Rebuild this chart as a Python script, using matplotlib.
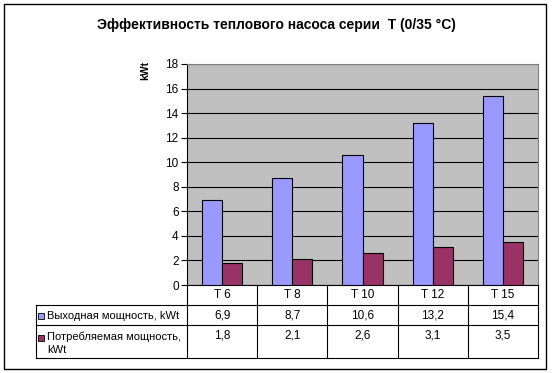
import numpy as np
import matplotlib.pyplot as plt
from matplotlib.patches import Rectangle
from matplotlib.lines import Line2D

plt.rcParams['font.family'] = ['Liberation Sans', 'DejaVu Sans']

# данные
categories = ['T 6', 'T 8', 'T 10', 'T 12', 'T 15']
output_power = [6.9, 8.7, 10.6, 13.2, 15.4]
consumed_power = [1.8, 2.1, 2.6, 3.1, 3.5]
series_names = ['Выходная мощность, kWt', 'Потребляемая мощность,\nkWt']
colors = ['#9999FF', '#993366']

W, H = 552, 373
fig = plt.figure(figsize=(W / 100, H / 100), dpi=100)

# пиксельные координаты -> доли фигуры
def fx(x):
    return x / W

def fy(y):
    return 1 - y / H

left, right, top, zero = 187, 538, 64, 285
ax = fig.add_axes([fx(left), fy(zero), fx(right - left), (zero - top) / H])
ax.set_facecolor('#C0C0C0')

x = np.arange(len(categories))
bw = 1 / 3.5
ax.bar(x - bw / 2, output_power, bw, color=colors[0], edgecolor='black', linewidth=0.8, zorder=3)
ax.bar(x + bw / 2, consumed_power, bw, color=colors[1], edgecolor='black', linewidth=0.8, zorder=3)

ax.set_xlim(-0.5, len(categories) - 0.5)
ax.set_ylim(0, 18)
ax.set_yticks(range(0, 19, 2))
ax.yaxis.grid(True, color='black', linewidth=0.8, zorder=0)
ax.set_axisbelow(True)
ax.set_xticks([])
ax.tick_params(axis='y', labelsize=8.5, length=4, width=0.8, pad=2)
for s in ['top', 'right']:
    ax.spines[s].set_color('#808080')
for s in ['left', 'bottom']:
    ax.spines[s].set_linewidth(0.8)

fig.text(fx(145), fy(70), 'kWt', rotation=90, fontsize=7.5, fontweight='bold',
         ha='center', va='center')
fig.text(fx(276), fy(25), 'Эффективность теплового насоса серии  T (0/35 °C)',
         fontsize=10, fontweight='bold', ha='center', va='center')

# таблица данных
col_w = (right - left) / len(categories)
row1, row2, bottom, leg_left = 305, 325, 358, 36
lw = 0.8

def hline(y, x0, x1):
    fig.add_artist(Line2D([fx(x0), fx(x1)], [fy(y), fy(y)], color='black', lw=lw))

def vline(xp, y0, y1):
    fig.add_artist(Line2D([fx(xp), fx(xp)], [fy(y0), fy(y1)], color='black', lw=lw))

hline(row1, leg_left, right)
hline(row2, leg_left, right)
hline(bottom, leg_left, right)
vline(leg_left, row1, bottom)
for i in range(len(categories) + 1):
    vline(left + i * col_w, zero, bottom)

for i, cat in enumerate(categories):
    cx = left + (i + 0.5) * col_w
    fig.text(fx(cx), fy(295), cat, fontsize=8.5, ha='center', va='center')
    fig.text(fx(cx), fy(316), f'{output_power[i]:.1f}'.replace('.', ','),
             fontsize=8.5, ha='center', va='center')
    fig.text(fx(cx), fy(329), f'{consumed_power[i]:.1f}'.replace('.', ','),
             fontsize=8.5, ha='center', va='top')

# легенда в таблице
for name, col, ytxt, va, ysq in [(series_names[0], colors[0], 316, 'center', 316),
                                 (series_names[1], colors[1], 332, 'top', 338)]:
    fig.add_artist(Rectangle((fx(38), fy(ysq + 3)), 6 / W, 6 / H, facecolor=col,
                             edgecolor='black', lw=0.6))
    fig.text(fx(47), fy(ytxt), name, fontsize=8, ha='left', va=va, linespacing=1.3)

# рамка
fig.add_artist(Rectangle((fx(4), fy(369)), 542 / W, 365 / H, fill=False,
                         edgecolor='black', lw=1))

fig.savefig('out.png', dpi=100)
